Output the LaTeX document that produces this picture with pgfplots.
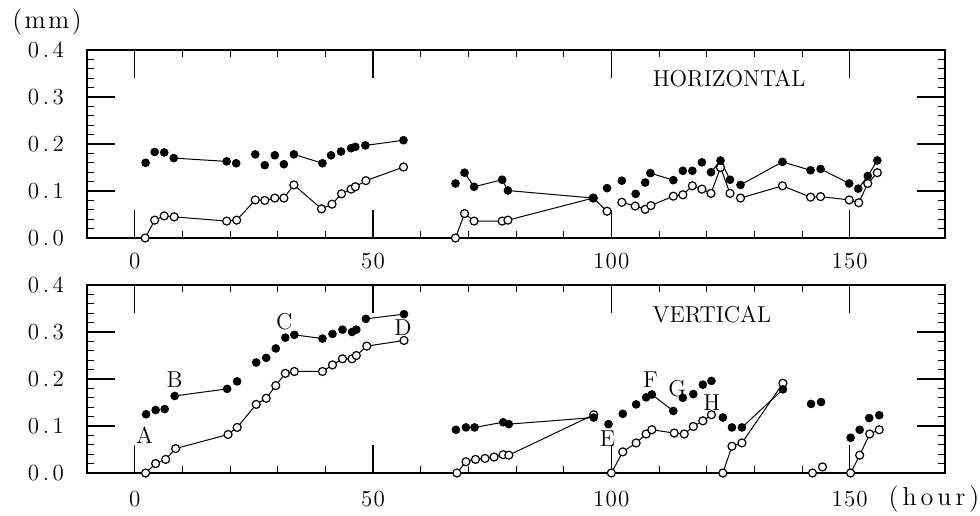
\documentclass[border=0pt]{standalone}
\usepackage{pgfplots}
\pgfplotsset{compat=1.18}

% widely spaced labels, as set by the plotter
\newcommand\gap{\kern1.8pt}
\newcommand\ngap{\kern0.6pt}
\newcommand\wgap{\kern2pt}

\pgfplotsset{
  gauge/.style={
    scale only axis, width=429pt, height=94pt,
    xmin=-10, xmax=170, ymin=0, ymax=0.4,
    xtick={0,50,100,150}, minor x tick num=4,
    xticklabels={0, 5\ngap0, 1\ngap0\ngap0, 1\ngap5\ngap0},
    ytick={0,0.1,0.2,0.3,0.4}, minor y tick num=4,
    yticklabels={0\gap.\gap0, 0\gap.\gap1, 0\gap.\gap2, 0\gap.\gap3, 0\gap.\gap4},
    tick align=inside, major tick length=14pt, minor tick length=3.5pt,
    axis line style={line width=0.8pt},
    every tick/.style={black, line width=0.6pt},
    every minor tick/.style={black, line width=0.5pt},
    tick label style={font=\fontsize{11.5}{13}\selectfont},
    yticklabel style={xshift=-8pt},
    unbounded coords=jump,
    clip=false,
  },
  filled/.style={black, line width=0.5pt, mark=*, mark size=1.9pt, mark options={fill=black, solid}},
  hollow/.style={black, line width=0.5pt, mark=*, mark size=2pt, mark options={fill=white, solid, line width=0.6pt}},
}
\tikzset{
  tag/.style={font=\fontsize{11.5}{14}\selectfont, inner sep=0pt},
  unit/.style={font=\fontsize{13}{15}\selectfont, inner sep=0pt},
}

\begin{document}
\begin{tikzpicture}
\path[use as bounding box] (0,0) rectangle (490pt,-257.5pt);

% ---------------- horizontal displacement ----------------
\begin{axis}[gauge, at={(43.5pt,-25pt)}, anchor=north west,
  xticklabel style={yshift=-4pt}]
  \addplot[hollow] coordinates {
    (2.2,0.0) (4.2,0.038) (6.2,0.047) (8.3,0.045) (19.3,0.036) (21.4,0.038)
    (25.3,0.081) (27.3,0.080) (29.4,0.085) (31.3,0.085) (33.4,0.113)
    (39.2,0.062) (41.4,0.072) (43.4,0.094) (45.4,0.104) (46.3,0.109)
    (48.5,0.122) (56.4,0.151) (60,nan)
    (67.3,0.0) (69.2,0.052) (71.2,0.036) (77.1,0.036) (78.3,0.038)
    (96.2,0.085) (99.1,0.057) (100,nan)
    (102.2,0.076) (105.0,0.068) (107.1,0.061) (108.3,0.069) (113.0,0.089)
    (115.0,0.092) (117.0,0.111) (119.0,0.104) (120.9,0.095) (122.9,0.150)
    (124.9,0.095) (126,nan)
    (127.1,0.085) (135.9,0.111) (141.8,0.087) (143.9,0.088) (149.9,0.081)
    (151.9,0.075) (153.8,0.116) (155.8,0.139)
  };
  \addplot[filled] coordinates {
    (2.3,0.160) (3,nan) (4.2,0.183) (5,nan) (6.2,0.182) (7,nan)
    (8.2,0.170) (19.3,0.163) (20,nan) (21.3,0.159) (22,nan)
    (25.3,0.178) (26,nan) (27.3,0.155) (28,nan) (29.4,0.176) (30,nan)
    (31.3,0.157) (32,nan) (33.4,0.178) (39.4,0.159) (40,nan)
    (41.2,0.176) (42,nan) (43.3,0.184) (44,nan) (45.4,0.191) (46,nan)
    (46.3,0.194) (47,nan) (48.4,0.197) (56.4,0.208) (60,nan)
    (67.3,0.116) (68,nan) (69.2,0.139) (71.2,0.109) (77.1,0.124)
    (78.3,0.101) (96.2,0.085) (97,nan) (99.1,0.106) (100,nan)
    (102.2,0.122) (103,nan) (105.1,0.094) (106,nan) (107.1,0.118) (107.5,nan)
    (108.2,0.138) (113.0,0.123) (114,nan) (115.0,0.143) (116,nan)
    (117.0,0.143) (118,nan) (119.0,0.161) (120,nan)
    (120.9,0.140) (122.9,0.165) (124.9,0.124) (126,nan)
    (127.1,0.113) (135.9,0.162) (141.8,0.144) (143,nan)
    (143.9,0.147) (149.9,0.116) (151,nan) (151.8,0.105) (153.8,0.132) (155.8,0.165)
  };
  \node[tag] at (axis cs:124.7,0.34) {HORIZONTAL};
\end{axis}

% ---------------- vertical displacement ----------------
\begin{axis}[gauge, at={(43.5pt,-142.5pt)}, anchor=north west,
  xticklabel style={yshift=-5.5pt}]
  \addplot[hollow] coordinates {
    (2.3,0.0) (4.4,0.020) (6.5,0.029) (8.6,0.052) (19.6,0.082) (21.5,0.097)
    (25.5,0.146) (27.6,0.159) (29.6,0.186) (31.6,0.212) (33.5,0.216)
    (39.4,0.216) (41.5,0.230) (43.6,0.243) (45.6,0.243) (46.5,0.250)
    (48.7,0.270) (56.5,0.282) (60,nan)
    (67.6,0.0) (69.5,0.024) (71.5,0.029) (73.5,0.031) (75.4,0.034)
    (77.3,0.039) (78.5,0.038) (96.3,0.124) (98,nan)
    (100,0.0) (102.4,0.045) (105.2,0.064) (107.3,0.083) (108.5,0.092)
    (113.2,0.085) (115.3,0.083) (117.2,0.099) (119.2,0.111) (121.0,0.124) (122,nan)
    (123.4,0.0) (125.3,0.057) (127.4,0.064) (136.0,0.191) (138,nan)
    (142.2,0.0) (143,nan) (144.3,0.013) (146,nan)
    (150.2,0.0) (152.1,0.038) (154.2,0.083) (156.2,0.092)
  };
  \addplot[filled] coordinates {
    (2.4,0.125) (3,nan) (4.4,0.134) (5,nan) (6.3,0.136) (7,nan)
    (8.4,0.164) (19.4,0.179) (20,nan) (21.5,0.195) (22,nan)
    (25.5,0.235) (26,nan) (27.6,0.245) (28,nan) (29.6,0.265) (30,nan)
    (31.6,0.288) (32,nan) (33.5,0.294) (39.4,0.286) (40,nan)
    (41.5,0.296) (42,nan) (43.6,0.305) (44,nan) (45.6,0.300) (46,nan)
    (46.5,0.305) (47,nan) (48.5,0.328) (56.5,0.338) (60,nan)
    (67.4,0.092) (68,nan) (69.5,0.097) (70,nan) (71.3,0.097) (77.3,0.108) (78,nan)
    (78.5,0.104) (96.3,0.118) (97,nan) (99.4,0.104) (100,nan)
    (102.4,0.126) (103,nan) (105.2,0.146) (106,nan) (107.3,0.161) (108,nan)
    (108.5,0.167) (113.0,0.132) (114,nan) (115.0,0.160) (116,nan)
    (117.2,0.168) (118,nan) (119.2,0.188) (120,nan) (121.0,0.196) (122,nan)
    (123.4,0.118) (124,nan) (125.3,0.097) (126,nan) (127.4,0.097) (136.0,0.178) (138,nan)
    (141.9,0.147) (143,nan) (144.0,0.151) (146,nan)
    (150.2,0.075) (151,nan) (152.1,0.092) (153,nan) (154.1,0.117) (155,nan) (156.2,0.123)
  };
  \node[tag] at (axis cs:121.1,0.338) {VERTICAL};
  \node[tag] at (axis cs:2.1,0.080) {A};
  \node[tag] at (axis cs:8.4,0.199) {B};
  \node[tag] at (axis cs:31.4,0.321) {C};
  \node[tag] at (axis cs:56.3,0.310) {D};
  \node[tag] at (axis cs:99.2,0.073) {E};
  \node[tag] at (axis cs:108.2,0.199) {F};
  \node[tag] at (axis cs:113.8,0.180) {G};
  \node[tag] at (axis cs:121.1,0.149) {H};
\end{axis}

\node[unit] at (23.5pt,-11pt) {(\kern1.2pt m\kern1.2pt m\kern1.2pt)};
\node[unit] at (467pt,-249.5pt) {(\wgap h\wgap o\wgap u\wgap r\wgap)};
\end{tikzpicture}
\end{document}
